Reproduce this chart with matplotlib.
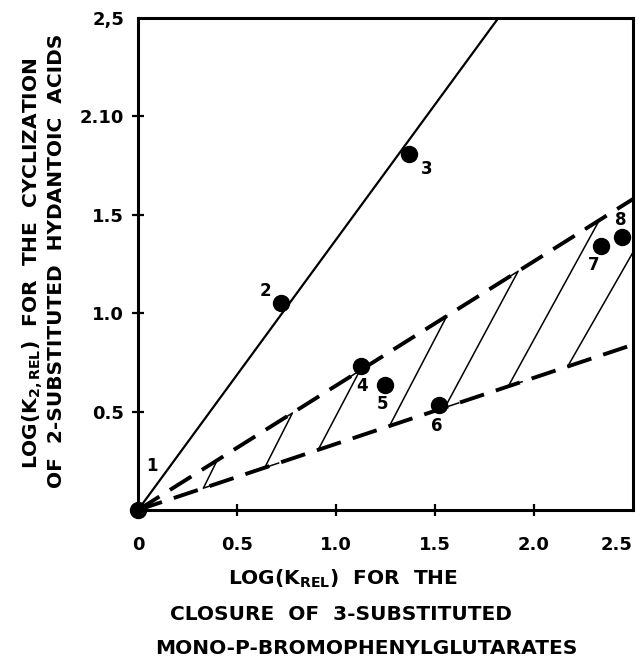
import matplotlib
matplotlib.use('Agg')
from matplotlib import pyplot as plt
import numpy as np

# data
point_id = ['1', '2', '3', '4', '5', '6', '7', '8']
log_k_rel = [0.0, 0.72, 1.37, 1.125, 1.245, 1.52, 2.34, 2.445]
log_k2_rel = [0.0, 1.05, 1.81, 0.73, 0.635, 0.535, 1.34, 1.385]
# label offsets in px (right, up) from each point
label_dx = [14, -15, 17, 1, -2, -2, -8, -1]
label_dy = [44, 12, -15, -20, -19, -21, -19, 17]

solid_x = [0.0, 1.82]
solid_y = [0.0, 2.5]
upper_x = [0.0, 2.5]
upper_y = [0.0, 1.58]
lower_x = [0.0, 2.5]
lower_y = [0.0, 0.84]

# hatch strokes: x where each one meets the lower and upper dashed line
hatch_lo = [0.33, 0.64, 0.91, 1.27, 1.55, 1.87, 2.17]
hatch_hi = [0.40, 0.78, 1.12, 1.56, 1.92, 2.33, 2.74]

xticks = [0, 0.5, 1.0, 1.5, 2.0, 2.5]
xtick_labels = ['0', '0.5', '1.0', '1.5', '2.0', '2.5']
yticks = [0.5, 1.0, 1.5, 2.0, 2.5]
ytick_labels = ['0.5', '1.0', '1.5', '2.10', '2,5']

plt.rcParams['font.family'] = ['DejaVu Sans']
plt.rcParams['font.weight'] = 'bold'
plt.rcParams['mathtext.fontset'] = 'dejavusans'
plt.rcParams['mathtext.default'] = 'bf'

W, H = 643, 656
fig = plt.figure(figsize=(W / 100, H / 100), dpi=100)
ax = fig.add_axes([138 / W, 1 - 510 / H, (633 - 138) / W, (510 - 18) / H])
ax.set_xlim(0, 2.5)
ax.set_ylim(0, 2.5)

for s in ax.spines.values():
    s.set_linewidth(2.2)

ax.plot(solid_x, solid_y, color='black', lw=1.6, solid_capstyle='butt')
ax.plot(upper_x, upper_y, color='black', lw=2.8, dashes=(6.5, 3.2))
ax.plot(lower_x, lower_y, color='black', lw=2.8, dashes=(6.5, 3.2))

up_slope = upper_y[1] / upper_x[1]
lo_slope = lower_y[1] / lower_x[1]
serif = 0.07
for xl, xh in zip(hatch_lo, hatch_hi):
    xs = [xh - serif, xh, xl, xl + serif]
    ys = [up_slope * (xh - serif), up_slope * xh, lo_slope * xl, lo_slope * (xl + serif)]
    ax.plot(xs, ys, color='black', lw=1.1)

ax.plot(log_k_rel, log_k2_rel, 'o', color='black', ms=11.5, clip_on=False, zorder=5)
for t, x, y, dx, dy in zip(point_id, log_k_rel, log_k2_rel, label_dx, label_dy):
    ax.annotate(t, (x, y), xytext=(dx * 0.72, dy * 0.72), textcoords='offset points',
                ha='center', va='center', fontsize=12, fontweight='bold')

ax.set_xticks(xticks)
ax.set_xticklabels(xtick_labels, fontsize=13, fontweight='bold')
ax.set_yticks(yticks)
ax.set_yticklabels(ytick_labels, fontsize=13, fontweight='bold')
ax.tick_params(axis='x', direction='inout', length=8, width=1.6, pad=15)
ax.tick_params(axis='y', direction='inout', length=8, width=1.6, pad=6)
xt = ax.xaxis.get_major_ticks()
xt[0].tick1line.set_visible(False)
xt[-1].tick1line.set_visible(False)
xt[-1].label1.set_horizontalalignment('right')
ax.yaxis.get_major_ticks()[-1].tick1line.set_visible(False)

# x axis title, three lines
fig.text(343 / W, 1 - 579 / H, 'LOG(K$_{REL}$)  FOR  THE', ha='center', va='center',
         fontsize=14.5, fontweight='bold')
fig.text(341 / W, 1 - 614 / H, 'CLOSURE  OF  3-SUBSTITUTED', ha='center', va='center',
         fontsize=14.5, fontweight='bold')
fig.text(366 / W, 1 - 648 / H, 'MONO-P-BROMOPHENYLGLUTARATES', ha='center', va='center',
         fontsize=14.5, fontweight='bold')

# y axis title, two lines
fig.text(33 / W, 1 - 263 / H, 'LOG(K$_{2,REL}$)  FOR  THE  CYCLIZATION', ha='center', va='center',
         rotation=90, fontsize=14.5, fontweight='bold')
fig.text(57 / W, 1 - 261 / H, 'OF  2-SUBSTITUTED  HYDANTOIC  ACIDS', ha='center', va='center',
         rotation=90, fontsize=14.5, fontweight='bold')

fig.savefig('out.png', dpi=100)
